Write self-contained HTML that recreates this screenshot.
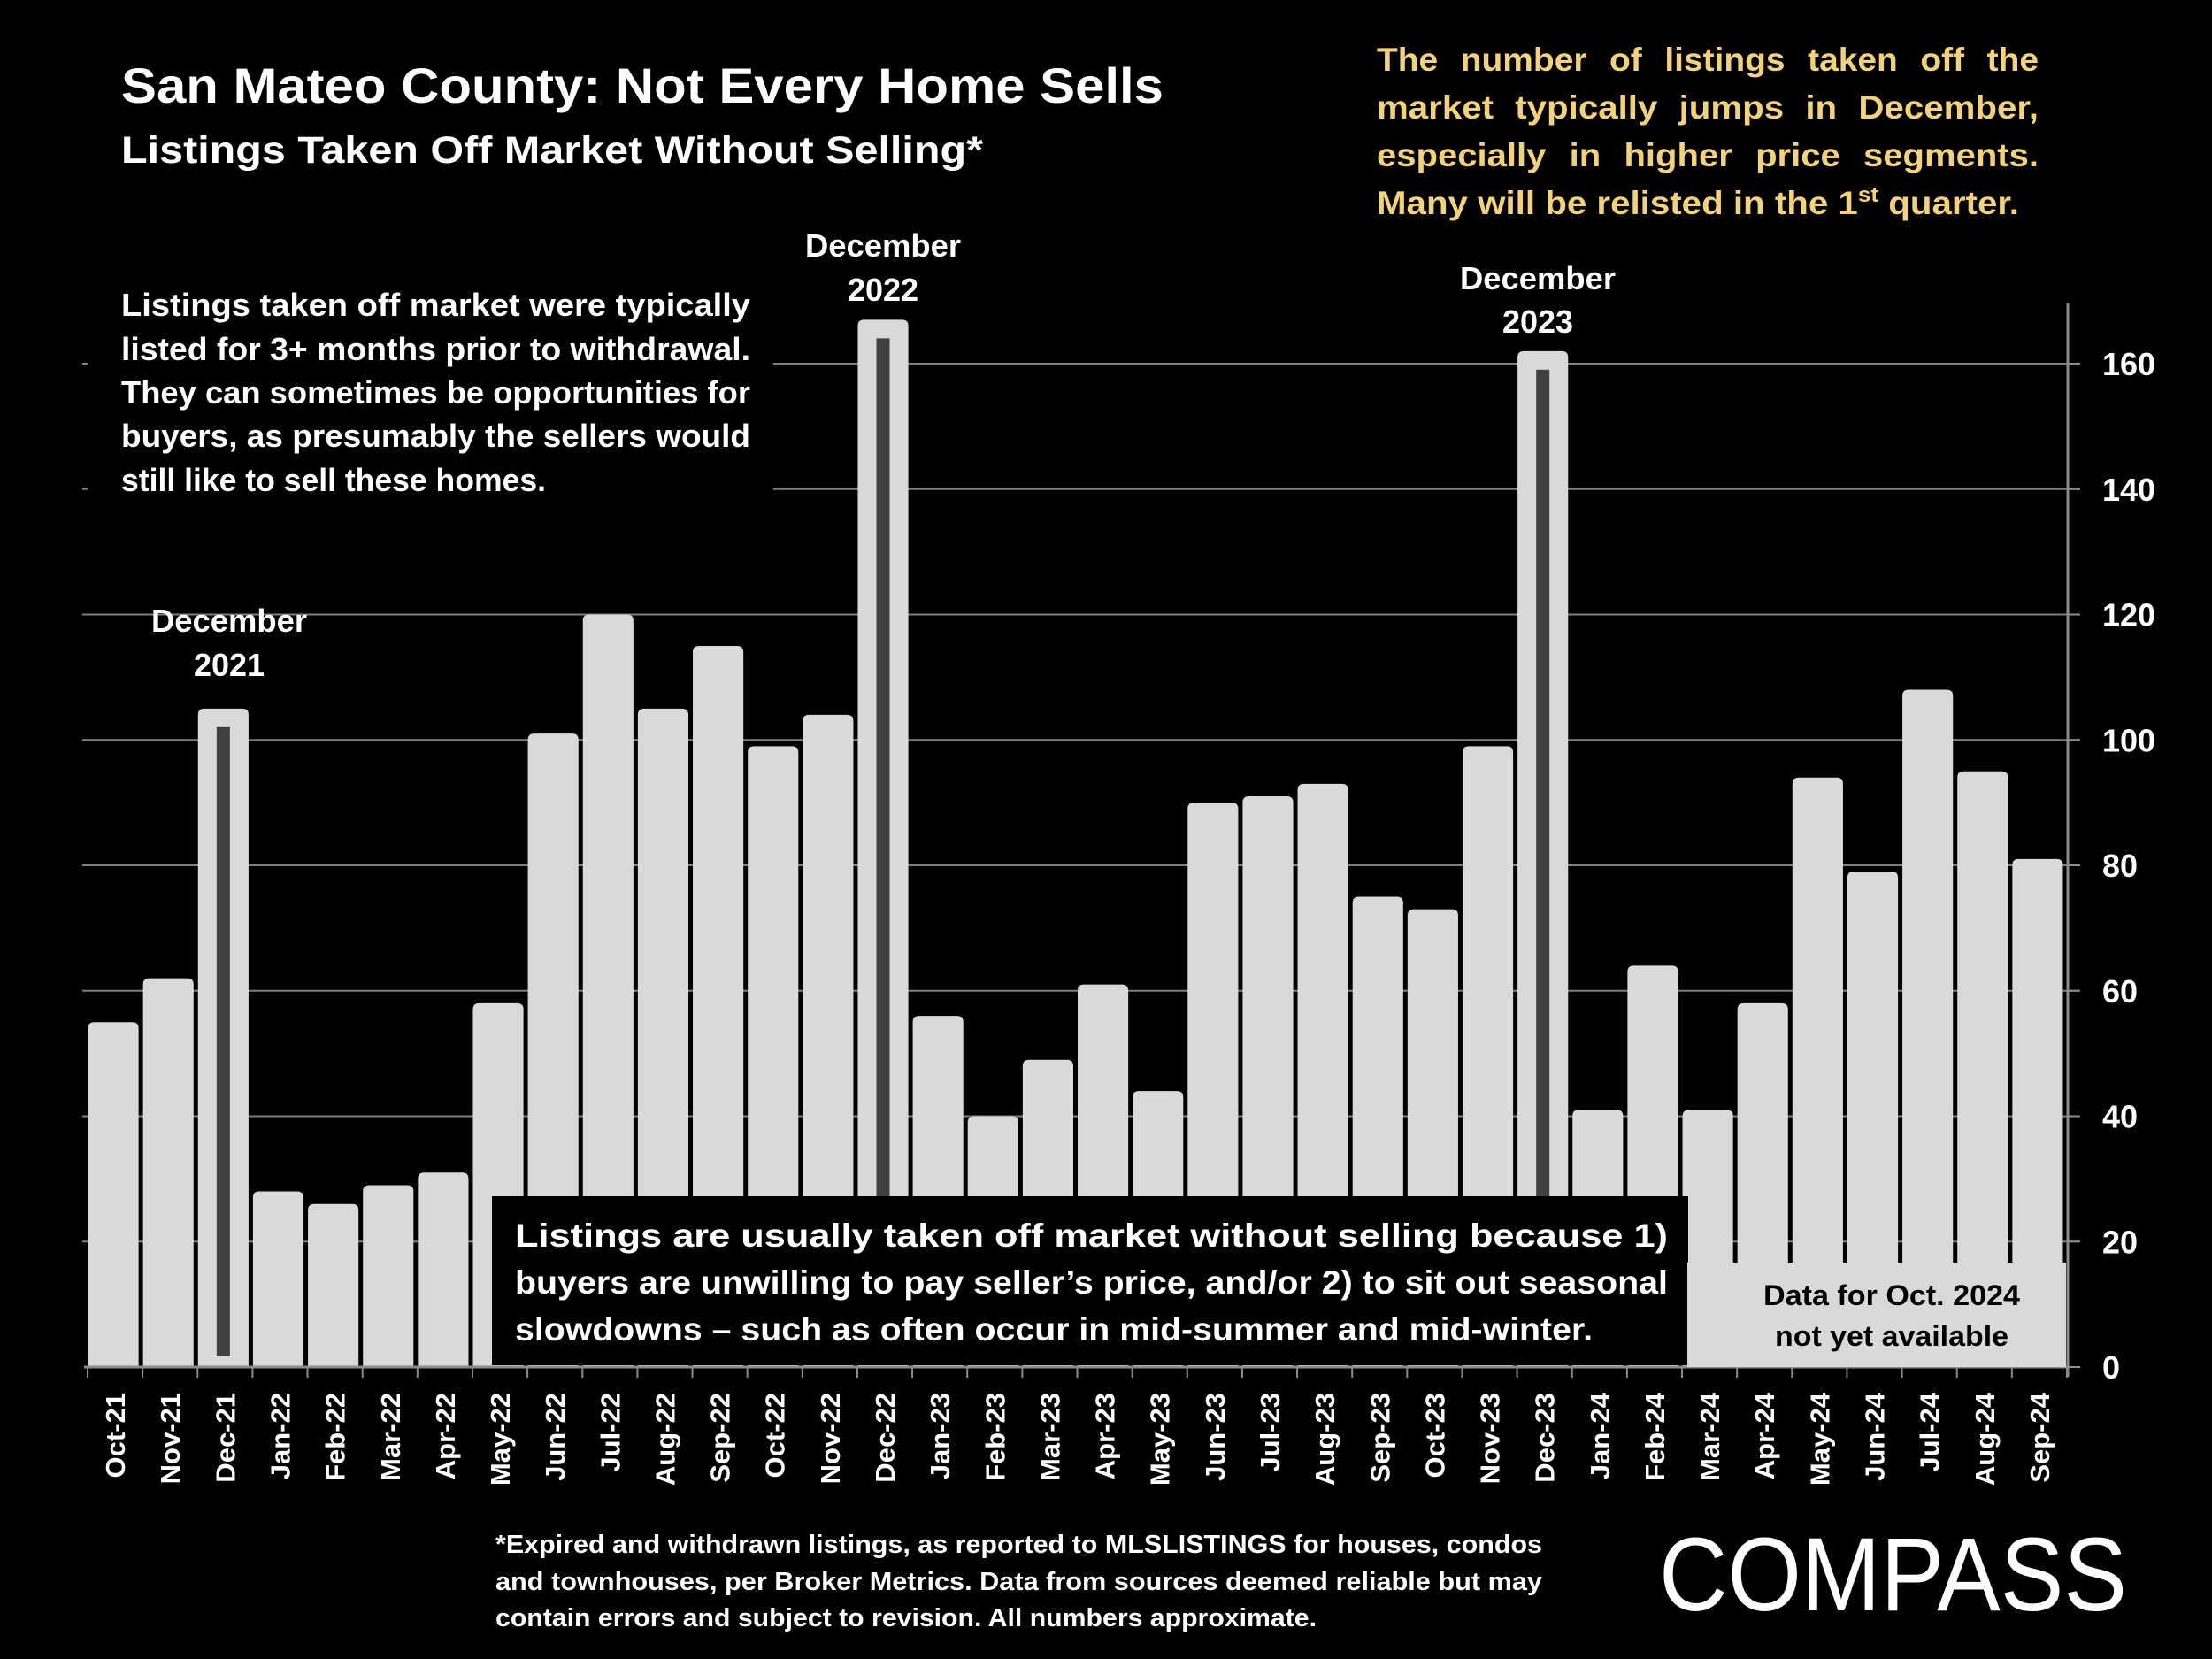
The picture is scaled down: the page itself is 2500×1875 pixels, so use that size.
<!DOCTYPE html>
<html><head><meta charset="utf-8"><style>
html,body{margin:0;padding:0;background:#000;}
svg{display:block;font-family:"Liberation Sans",sans-serif;font-weight:bold;}
</style></head><body>
<svg id="chart" width="2500" height="1875" viewBox="0 0 2500 1875" xmlns="http://www.w3.org/2000/svg">
<rect width="2500" height="1875" fill="#000"/>
<g id="grid"></g>
<g id="bars"></g>
<g id="axes"></g>
<g id="xlabels"></g>
<g id="ylabels"></g>

<text x="137" y="116" fill="#fff" font-size="56" textLength="1178" lengthAdjust="spacingAndGlyphs">San Mateo County: Not Every Home Sells</text>
<text x="137" y="184" fill="#fff" font-size="43" textLength="974" lengthAdjust="spacingAndGlyphs">Listings Taken Off Market Without Selling*</text>

<g fill="#F3D27E" font-size="37">
<text x="1556" y="80" textLength="748" lengthAdjust="spacingAndGlyphs" word-spacing="14">The number of listings taken off the</text>
<text x="1556" y="134" textLength="748" lengthAdjust="spacingAndGlyphs" word-spacing="12">market typically jumps in December,</text>
<text x="1556" y="188" textLength="748" lengthAdjust="spacingAndGlyphs" word-spacing="14">especially in higher price segments.</text>
<text x="1556" y="242" textLength="726" lengthAdjust="spacingAndGlyphs">Many will be relisted in the 1<tspan font-size="24" dy="-14">st</tspan><tspan dy="14"> quarter.</tspan></text>
</g>

<rect x="99" y="319" width="775" height="252" fill="#000"/>
<g fill="#fff" font-size="36">
<text x="137" y="357" textLength="711" lengthAdjust="spacingAndGlyphs">Listings taken off market were typically</text>
<text x="137" y="407" textLength="711" lengthAdjust="spacingAndGlyphs">listed for 3+ months prior to withdrawal.</text>
<text x="137" y="456" textLength="711" lengthAdjust="spacingAndGlyphs">They can sometimes be opportunities for</text>
<text x="137" y="505" textLength="711" lengthAdjust="spacingAndGlyphs">buyers, as presumably the sellers would</text>
<text x="137" y="555" textLength="480" lengthAdjust="spacingAndGlyphs">still like to sell these homes.</text>
</g>

<rect x="556" y="1352" width="1352" height="191" fill="#000"/>
<g fill="#fff" font-size="37">
<text x="582" y="1409" textLength="1303" lengthAdjust="spacingAndGlyphs">Listings are usually taken off market without selling because 1)</text>
<text x="582" y="1462" textLength="1303" lengthAdjust="spacingAndGlyphs">buyers are unwilling to pay seller’s price, and/or 2) to sit out seasonal</text>
<text x="582" y="1515" textLength="1218" lengthAdjust="spacingAndGlyphs">slowdowns – such as often occur in mid-summer and mid-winter.</text>
</g>

<rect x="1907" y="1427" width="428" height="118" fill="#d9d9d9"/>
<g fill="#000" font-size="32" text-anchor="middle">
<text x="2138" y="1475" textLength="290" lengthAdjust="spacingAndGlyphs">Data for Oct. 2024</text>
<text x="2138" y="1521" textLength="264" lengthAdjust="spacingAndGlyphs">not yet available</text>
</g>

<g fill="#fff" font-size="36" text-anchor="middle">
<text x="259" y="714" textLength="176" lengthAdjust="spacingAndGlyphs">December</text><text x="259" y="764">2021</text></g>
<g fill="#fff" font-size="36" text-anchor="middle">
<text x="998" y="290" textLength="176" lengthAdjust="spacingAndGlyphs">December</text><text x="998" y="340">2022</text></g>
<g fill="#fff" font-size="36" text-anchor="middle">
<text x="1738" y="327" textLength="176" lengthAdjust="spacingAndGlyphs">December</text><text x="1738" y="376">2023</text></g>

<g fill="#fff" font-size="29">
<text x="560" y="1755" textLength="1183" lengthAdjust="spacingAndGlyphs">*Expired and withdrawn listings, as reported to MLSLISTINGS for houses, condos</text>
<text x="560" y="1797" textLength="1183" lengthAdjust="spacingAndGlyphs">and townhouses, per Broker Metrics. Data from sources deemed reliable but may</text>
<text x="560" y="1838" textLength="928" lengthAdjust="spacingAndGlyphs">contain errors and subject to revision. All numbers approximate.</text>
</g>

<text x="1875" y="1820" fill="#fff" font-size="118" font-weight="normal" textLength="529" lengthAdjust="spacingAndGlyphs">COMPASS</text>

<script>
const categories = ["Oct-21","Nov-21","Dec-21","Jan-22","Feb-22","Mar-22","Apr-22","May-22","Jun-22","Jul-22","Aug-22","Sep-22","Oct-22","Nov-22","Dec-22","Jan-23","Feb-23","Mar-23","Apr-23","May-23","Jun-23","Jul-23","Aug-23","Sep-23","Oct-23","Nov-23","Dec-23","Jan-24","Feb-24","Mar-24","Apr-24","May-24","Jun-24","Jul-24","Aug-24","Sep-24"];
const listingsOffMarket = [55,62,105,28,26,29,31,58,101,120,105,115,99,104,167,56,40,49,61,44,90,91,93,75,73,99,162,41,64,41,58,94,79,108,95,81];
const yTicks = [0,20,40,60,80,100,120,140,160];
const highlighted = ["Dec-21","Dec-22","Dec-23"];

const NS = "http://www.w3.org/2000/svg";
const plotLeft = 99, plotRight = 2336, y0 = 1545, yTop = 411, yMaxVal = 160;
const step = (plotRight - plotLeft) / categories.length;
function xScale(i){ return plotLeft + i * step; }
function yScale(v){ return y0 - (v / yMaxVal) * (y0 - yTop); }
function mk(tag, attrs, parent){ const e = document.createElementNS(NS, tag); for (const k in attrs) e.setAttribute(k, attrs[k]); parent.appendChild(e); return e; }

const grid = document.getElementById('grid');
const ylab = document.getElementById('ylabels');
yTicks.forEach(t => {
  const y = yScale(t);
  if (t > 0) {
    const l = mk('line', {x1: 93, x2: 2350, y1: y, y2: y, stroke: '#7f7f7f', 'stroke-width': 2}, grid);
    
    
  }
  const tk = mk('line', {x1: 2337, x2: 2351, y1: y, y2: y, stroke: '#8c8c8c', 'stroke-width': 2}, grid);
  
  
  const tx = mk('text', {x: 2376, y: y + 13, fill: '#fff', 'font-size': 36}, ylab);
  tx.textContent = t;
  
  
});

const bars = document.getElementById('bars');
const xl = document.getElementById('xlabels');
const barW = step - 5;
categories.forEach((c, i) => {
  const v = listingsOffMarket[i];
  const x = xScale(i) + 0.5, yt = yScale(v);
  const r = 7;
  const d = `M${x},${y0} L${x},${yt + r} Q${x},${yt} ${x + r},${yt} L${x + barW - r},${yt} Q${x + barW},${yt} ${x + barW},${yt + r} L${x + barW},${y0} Z`;
  const b = mk('path', {d: d, fill: '#d9d9d9'}, bars);
  
  
  if (highlighted.includes(c)) {
    const s = mk('rect', {x: x + barW / 2 - 7.5, y: yt + 21, width: 15, height: y0 - 12 - (yt + 21), fill: '#404040'}, bars);
    
    
  }
  const cx = xScale(i) + step / 2;
  const t = mk('text', {x: 0, y: 0, fill: '#fff', 'font-size': 31, 'text-anchor': 'end', transform: `translate(${cx + 11},1574) rotate(-90)`}, xl);
  t.textContent = c;
  
  
});

const axes = document.getElementById('axes');
const xa = mk('line', {x1: plotLeft - 4, x2: 2337, y1: y0, y2: y0, stroke: '#8c8c8c', 'stroke-width': 3}, axes);


const ya = mk('line', {x1: 2337, x2: 2337, y1: 343, y2: 1556, stroke: '#8c8c8c', 'stroke-width': 3}, axes);


for (let i = 0; i <= categories.length; i++) {
  const x = xScale(i);
  const tk = mk('line', {x1: x, x2: x, y1: y0, y2: y0 + 12, stroke: '#8c8c8c', 'stroke-width': 2}, axes);
  
  
}
</script>
</svg>
</body></html>
